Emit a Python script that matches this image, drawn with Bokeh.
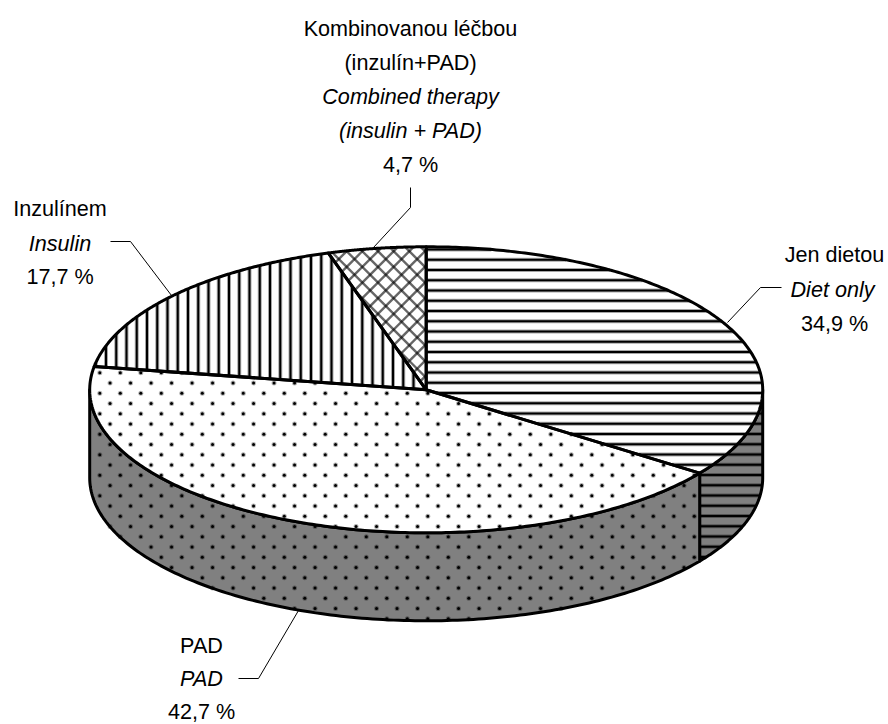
import numpy as np
from bokeh.core.properties import value
from bokeh.embed import file_html
from bokeh.plotting import figure
from bokeh.resources import INLINE

shares = [34.9, 42.7, 17.7, 4.7]
slice_names = ["diet", "pad", "insulin", "combined"]
side_fill = "#808080"

CX, CY, RX, RY, DEPTH = 425.7, 389.3, 336.5, 143.0, 88.0
LINE_GAP = 10.25
OUTLINE = 3.0

p = figure(width=888, height=724, x_range=(0, 888), y_range=(724, 0),
           toolbar_location=None, output_backend="svg", min_border=0,
           outline_line_color=None)
p.axis.visible = False
p.grid.visible = False
p.background_fill_color = "white"
p.border_fill_color = "white"


def ex(a):
    return CX + RX * np.sin(a)


def ey(a):
    return CY - RY * np.cos(a)


def clip_line(px, py, ox, oy, dx, dy):
    """Segments of the line o + t d that lie inside polygon (px, py)."""
    ts = []
    n = len(px)
    for i in range(n):
        x0, y0, x1, y1 = px[i], py[i], px[(i + 1) % n], py[(i + 1) % n]
        ex_, ey_ = x1 - x0, y1 - y0
        den = dx * ey_ - dy * ex_
        if abs(den) < 1e-12:
            continue
        t = ((x0 - ox) * ey_ - (y0 - oy) * ex_) / den
        u = ((x0 - ox) * dy - (y0 - oy) * dx) / den
        if 0 <= u < 1:
            ts.append(t)
    ts.sort()
    return [(ts[i], ts[i + 1]) for i in range(0, len(ts) - 1, 2)]


def family(px, py, dx, dy, nx, ny, gap, phase):
    """Parallel lines with direction d, stepped along normal n."""
    xs, ys = [], []
    proj = np.asarray(px) * nx + np.asarray(py) * ny
    k0 = int(np.floor((proj.min() - phase) / gap))
    k1 = int(np.ceil((proj.max() - phase) / gap))
    for k in range(k0, k1 + 1):
        d = phase + k * gap
        ox, oy = nx * d, ny * d
        for t0, t1 in clip_line(px, py, ox, oy, dx, dy):
            xs.append([ox + dx * t0, ox + dx * t1])
            ys.append([oy + dy * t0, oy + dy * t1])
    return xs, ys


def inside(px, py, x, y):
    c = np.zeros(x.shape, dtype=bool)
    n = len(px)
    for i in range(n):
        x0, y0, x1, y1 = px[i], py[i], px[(i + 1) % n], py[(i + 1) % n]
        if y0 == y1:
            continue
        cond = (y0 > y) != (y1 > y)
        xi = (x1 - x0) * (y - y0) / (y1 - y0) + x0
        c ^= cond & (x < xi)
    return c


def draw_soft(xs, ys, soft=4.0, core=2.0, soft_alpha=0.35):
    if not xs:
        return
    p.multi_line(xs, ys, line_color="black", line_width=soft, line_alpha=soft_alpha)
    p.multi_line(xs, ys, line_color="black", line_width=core)


def draw_hatch(name, px, py):
    if name == "diet":
        draw_soft(*family(px, py, 1, 0, 0, 1, LINE_GAP, 3.0))
    elif name == "insulin":
        draw_soft(*family(px, py, 0, 1, 1, 0, LINE_GAP, 3.0))
    elif name == "combined":
        s = np.sqrt(0.5)
        gap = 15.67 * s
        for d, n in (((s, s), (s, -s)), ((s, -s), (s, s))):
            xs, ys = family(px, py, d[0], d[1], n[0], n[1], gap, 1.0)
            p.multi_line(xs, ys, line_color="black", line_width=2.4, line_alpha=0.6)
    elif name == "pad":
        dots_x, dots_y = [], []
        j0 = int((min(py) - 3.3) // LINE_GAP)
        j1 = int((max(py) - 3.3) // LINE_GAP) + 1
        for j in range(j0, j1 + 1):
            y = 3.3 + j * LINE_GAP
            off = 17.3 + (j % 2) * LINE_GAP
            row = np.arange(off, 888, 2 * LINE_GAP)
            dots_x.append(row)
            dots_y.append(np.full(row.shape, y))
        x = np.concatenate(dots_x)
        y = np.concatenate(dots_y)
        m = inside(px, py, x, y)
        p.scatter(x[m], y[m], size=5.0, marker="circle", fill_color="black",
                  fill_alpha=0.3, line_color=None)
        p.scatter(x[m], y[m], size=3.0, marker="circle", fill_color="black",
                  line_color=None)


bounds = np.radians(np.concatenate([[0], np.cumsum(shares)]) * 3.6)

# Outer wall
for i, name in enumerate(slice_names):
    a0, a1 = max(bounds[i], np.pi / 2), min(bounds[i + 1], 3 * np.pi / 2)
    if a1 <= a0:
        continue
    t = np.linspace(a0, a1, 160)
    xs = np.concatenate([ex(t), ex(t[::-1])])
    ys = np.concatenate([ey(t), ey(t[::-1]) + DEPTH])
    p.patch(xs, ys, fill_color=side_fill, line_color=None)
    draw_hatch(name, list(xs), list(ys))
    p.patch(xs, ys, fill_color=None, line_color="black", line_width=OUTLINE, line_join="round")

# Top face
for i, name in enumerate(slice_names):
    t = np.linspace(bounds[i], bounds[i + 1], 200)
    xs = np.concatenate([[CX], ex(t)])
    ys = np.concatenate([[CY], ey(t)])
    p.patch(xs, ys, fill_color="white", line_color=None)
    draw_hatch(name, list(xs), list(ys))
for i, name in enumerate(slice_names):
    t = np.linspace(bounds[i], bounds[i + 1], 200)
    xs = np.concatenate([[CX], ex(t)])
    ys = np.concatenate([[CY], ey(t)])
    p.patch(xs, ys, fill_color=None, line_color="black", line_width=OUTLINE, line_join="round")

# Leaders
leaders = [
    ([410, 410, 373], [187, 207, 247]),
    ([110, 130, 171], [241, 241, 295]),
    ([781, 760, 727], [287, 287, 322]),
    ([238, 258, 298], [678, 678, 610]),
]
for lx, ly in leaders:
    p.line(lx, ly, line_color="black", line_width=1)

labels = [
    (410, 28, "Kombinovanou léčbou", "normal"),
    (410, 62, "(inzulín+PAD)", "normal"),
    (410, 96, "Combined therapy", "italic"),
    (410, 130, "(insulin + PAD)", "italic"),
    (410, 164, "4,7 %", "normal"),
    (59.5, 208, "Inzulínem", "normal"),
    (59.5, 243, "Insulin", "italic"),
    (59.5, 276, "17,7 %", "normal"),
    (834, 254, "Jen dietou", "normal"),
    (832, 289, "Diet only", "italic"),
    (834, 323, "34,9 %", "normal"),
    (201, 645, "PAD", "normal"),
    (201, 678, "PAD", "italic"),
    (201, 711, "42,7 %", "normal"),
]
for x, y, s, st in labels:
    p.text([x], [y], text=[s], text_font=value("Liberation Sans"),
           text_font_size="21.6px", text_font_style=st, text_color="black",
           text_align="center", text_baseline="middle")

open("out.html", "w").write(file_html(p, INLINE))
